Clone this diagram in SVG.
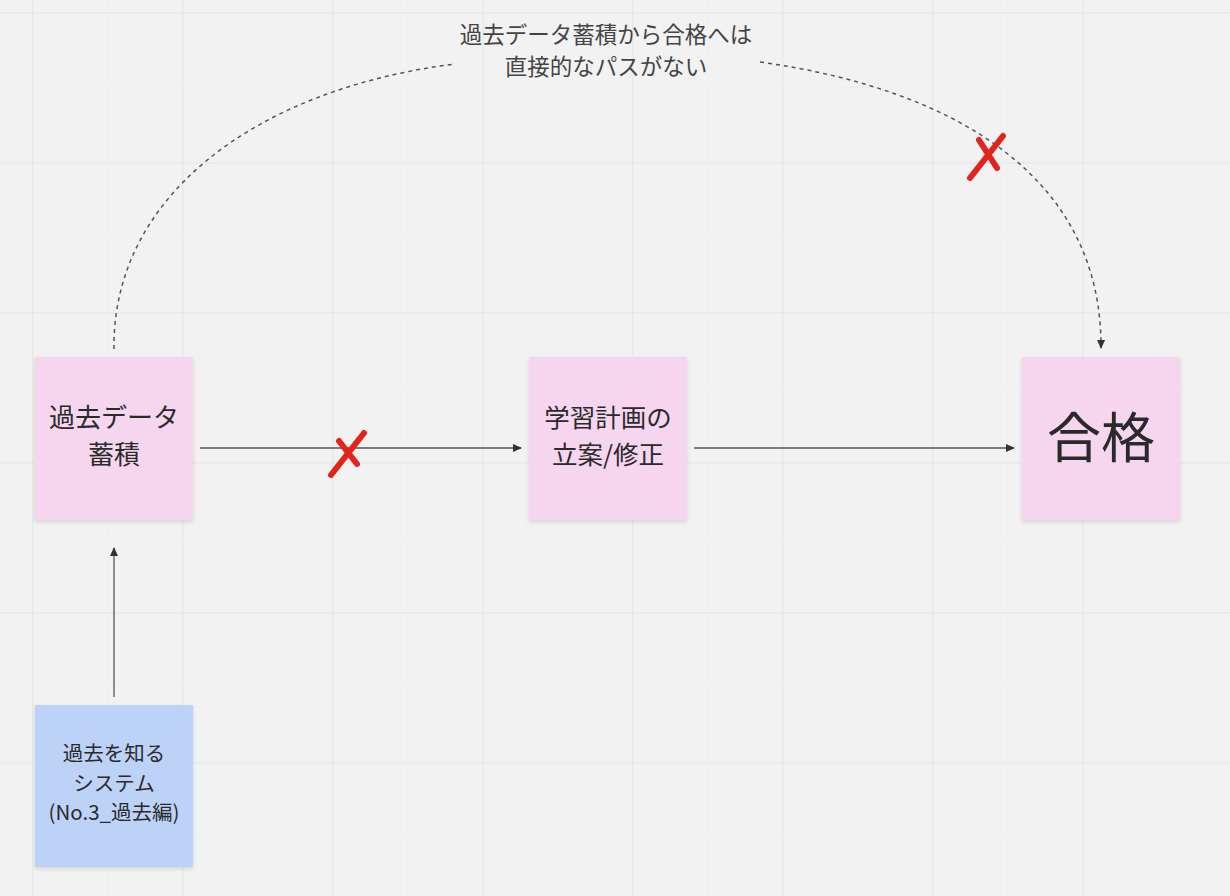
<svg xmlns="http://www.w3.org/2000/svg" width="1230" height="896" viewBox="0 0 1230 896">
<defs>
<style>
.t{font-family:"Noto Sans CJK JP","Noto Sans",sans-serif;fill:#2a2a2a;text-anchor:middle}
.c{fill:none;stroke:#555;stroke-width:1.3}
.d{fill:none;stroke:#555;stroke-width:1.5;stroke-dasharray:4 4}
.x{fill:none;stroke:#e3241c;stroke-width:6;stroke-linecap:round}
.pink{fill:#f6d5ee}
.blue{fill:#bcd3f7}
</style>
<marker id="ah" markerWidth="10" markerHeight="10" refX="8" refY="5" orient="auto" markerUnits="userSpaceOnUse">
<path d="M0,1 L9,5 L0,9 Z" fill="#333"/>
</marker>
<filter id="sh" x="-10%" y="-10%" width="120%" height="125%">
<feDropShadow dx="0" dy="2" stdDeviation="2" flood-color="#000" flood-opacity="0.12"/>
</filter>
<pattern id="minor" width="75" height="75" patternUnits="userSpaceOnUse" x="32" y="12">
<path d="M0,0 H75 M0,0 V75" stroke="#ebebeb" stroke-width="1" fill="none"/>
</pattern>
<pattern id="major" width="150" height="150" patternUnits="userSpaceOnUse" x="32.5" y="12.5">
<path d="M0,0 H150 M0,0 V150" stroke="#e2e2e2" stroke-width="1.5" fill="none"/>
</pattern>
</defs>
<rect width="1230" height="896" fill="#f2f2f2"/>
<rect width="1230" height="896" fill="url(#minor)"/>
<rect width="1230" height="896" fill="url(#major)"/>

<g id="connectors">
<line class="c" x1="200" y1="448" x2="521" y2="448" marker-end="url(#ah)"/>
<line class="c" x1="694" y1="448" x2="1014" y2="448" marker-end="url(#ah)"/>
<line class="c" x1="114" y1="697" x2="114" y2="548" marker-end="url(#ah)"/>
<path class="d" d="M114,349 C112,200 250,90 455,64"/>
<path class="d" d="M760,62 C960,90 1102,180 1101,348" marker-end="url(#ah)"/>
<text class="t" x="606" y="43" font-size="22.5" style="fill:#444">過去データ蓄積から合格へは</text>
<text class="t" x="606" y="75" font-size="22.5" style="fill:#444">直接的なパスがない</text>
</g>

<g id="marks">
<path class="x" d="M331,475 L364,433"/>
<path class="x" d="M339,441 L357,464"/>
<path class="x" d="M970,178 L1003,136"/>
<path class="x" d="M979,140 L997,168"/>
</g>

<g id="node-data">
<rect class="pink" x="35" y="357" width="158" height="163" filter="url(#sh)"/>
<text class="t" x="114" y="427" font-size="26">過去データ</text>
<text class="t" x="114" y="464" font-size="26">蓄積</text>
</g>

<g id="node-plan">
<rect class="pink" x="529" y="357" width="158" height="163" filter="url(#sh)"/>
<text class="t" x="608" y="427" font-size="25.5">学習計画の</text>
<text class="t" x="608" y="464" font-size="25.5">立案/修正</text>
</g>

<g id="node-pass">
<rect class="pink" x="1022" y="357" width="158" height="163" filter="url(#sh)"/>
<text class="t" x="1101" y="458" font-size="54">合格</text>
</g>

<g id="node-system">
<rect class="blue" x="35" y="705" width="158" height="162" filter="url(#sh)"/>
<text class="t" x="114" y="761" font-size="20.5">過去を知る</text>
<text class="t" x="114" y="791" font-size="20.5">システム</text>
<text class="t" x="114" y="820" font-size="20.5">(No.3_過去編)</text>
</g>
</svg>
